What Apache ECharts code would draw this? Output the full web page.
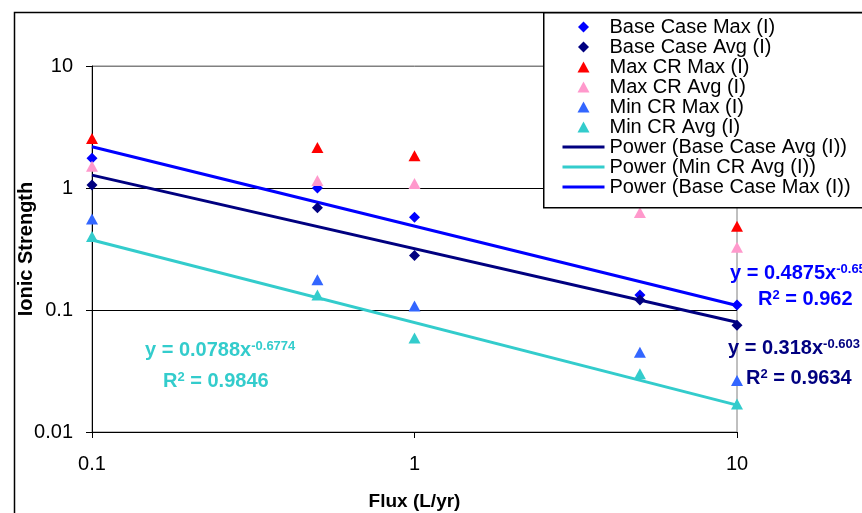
<!DOCTYPE html>
<html><head><meta charset="utf-8">
<script src="https://cdn.jsdelivr.net/npm/echarts@6/dist/echarts.min.js"></script>
<style>html,body{margin:0;padding:0;background:#fff}#c{width:862px;height:513px}</style>
</head><body><div id="c"></div>
<script>
// ---- data ----
const flux = [0.1, 0.5, 1, 5, 10];
const baseCaseMax = [1.75, 1.0, 0.575, 0.133, 0.11];
const baseCaseAvg = [1.06, 0.69, 0.28, 0.121, 0.075];
const maxCrMax = [2.55, 2.15, 1.84, 1.0, 0.485];
const maxCrAvg = [1.51, 1.15, 1.09, 0.63, 0.327];
const minCrMax = [0.557, 0.177, 0.108, 0.045, 0.0264];
const minCrAvg = [0.40, 0.133, 0.059, 0.030, 0.017];
const trendX = [0.1, 10];
const trendBaseAvg = [1.275, 0.0793];
const trendMinAvg = [0.375, 0.0166];
const trendBaseMax = [2.18, 0.109];
const xTickLabels = ['0.1', '1', '10'];
const yTickLabels = ['0.01', '0.1', '1', '10'];
const seriesNames = ['Base Case Max (I)', 'Base Case Avg (I)', 'Max CR Max (I)', 'Max CR Avg (I)',
  'Min CR Max (I)', 'Min CR Avg (I)', 'Power (Base Case Avg (I))', 'Power (Min CR Avg (I))', 'Power (Base Case Max (I))'];
const eqMinAvg = ['y = 0.0788x', '-0.6774', 'R', '2', ' = 0.9846'];
const eqBaseMax = ['y = 0.4875x', '-0.651', 'R', '2', ' = 0.962'];
const eqBaseAvg = ['y = 0.318x', '-0.603', 'R', '2', ' = 0.9634'];

const FONT = 'Liberation Sans, Arial, sans-serif';
const pairs = (xs, ys) => xs.map((x, i) => [x, ys[i]]);

const scatter = (name, ys, symbol, color, size) => ({
  name, type: 'scatter', data: pairs(flux, ys), symbol, symbolSize: size,
  itemStyle: { color, opacity: 1 }, z: 3
});
const trend = (name, ys, color) => ({
  name, type: 'line', data: pairs(trendX, ys), symbol: 'none', showSymbol: false,
  lineStyle: { color, width: 3 }, itemStyle: { color, opacity: 0 }, z: 2
});

// legend icons: marker centred in a 42x11 box (leading moves fix the box)
const ICON_DIAMOND = 'path://M0,0 M42,11 M15.5,5.5 L21,0 L26.5,5.5 L21,11 Z';
const ICON_TRIANGLE = 'path://M0,0 M42,11 M15,11 L21,0 L27,11 Z';

function eqText(x, y, eq, color, rx, ry) {
  const rich = {
    a: { fontSize: 20, fontWeight: 'bold', fontFamily: FONT, fill: color },
    s: { fontSize: 13, fontWeight: 'bold', fontFamily: FONT, fill: color, verticalAlign: 'top', padding: [0, 0, 8, 0] }
  };
  return [
    { type: 'text', left: x, top: y, z: 10, style: { text: '{a|' + eq[0] + '}{s|' + eq[1] + '}', rich, fill: color } },
    { type: 'text', left: rx, top: ry, z: 10, style: { text: '{a|' + eq[2] + '}{s|' + eq[3] + '}{a|' + eq[4] + '}', rich, fill: color } }
  ];
}

const chart = echarts.init(document.getElementById('c'), null, { renderer: 'canvas' });
chart.setOption({
  animation: false,
  backgroundColor: '#fff',
  grid: { left: 92, right: 125, top: 66, bottom: 81, show: true, borderColor: '#808080', borderWidth: 1,
    containLabel: false, outerBoundsMode: 'none' },
  xAxis: {
    type: 'log', logBase: 10, min: 0.1, max: 10,
    name: 'Flux (L/yr)', nameLocation: 'middle', nameGap: 60, nameMoveOverlap: false,
    nameTextStyle: { fontFamily: FONT, fontSize: 19, fontWeight: 'bold', color: '#000' },
    axisLine: { show: true, lineStyle: { color: '#000', width: 1 } },
    axisTick: { show: true, inside: false, length: 6, lineStyle: { color: '#000' } },
    minorTick: { show: false },
    splitLine: { show: false },
    axisLabel: { fontFamily: FONT, fontSize: 20, color: '#000', margin: 22,
      formatter: v => xTickLabels[Math.round(Math.log10(v)) + 1] }
  },
  yAxis: {
    type: 'log', logBase: 10, min: 0.01, max: 10,
    name: 'Ionic Strength', nameLocation: 'middle', nameGap: 56, nameRotate: 90, nameMoveOverlap: false,
    nameTextStyle: { fontFamily: FONT, fontSize: 20, fontWeight: 'bold', color: '#000' },
    axisLine: { show: true, lineStyle: { color: '#000', width: 1 } },
    axisTick: { show: true, inside: false, length: 6, lineStyle: { color: '#000' } },
    splitLine: { show: true, lineStyle: { color: ['#000', '#000', '#000', '#808080'], width: 1 } },
    axisLabel: { fontFamily: FONT, fontSize: 20, color: '#000', margin: 19,
      formatter: v => yTickLabels[Math.round(Math.log10(v)) + 2] }
  },
  legend: {
    orient: 'vertical', left: 561, top: 17, padding: 0, itemGap: 0,
    itemWidth: 42, itemHeight: 11, selectedMode: false, z: 20, symbolKeepAspect: true,
    textStyle: { fontFamily: FONT, fontSize: 20, color: '#000', lineHeight: 20 },
    data: seriesNames.map((n, i) => i < 2 ? { name: n, icon: ICON_DIAMOND }
      : i < 6 ? { name: n, icon: ICON_TRIANGLE }
      : { name: n, itemStyle: { opacity: 0 }, lineStyle: { width: 3 } })
  },
  series: [
    scatter(seriesNames[0], baseCaseMax, 'diamond', '#0000FF', 11),
    scatter(seriesNames[1], baseCaseAvg, 'diamond', '#000080', 11),
    scatter(seriesNames[2], maxCrMax, 'triangle', '#FF0000', [12, 11]),
    scatter(seriesNames[3], maxCrAvg, 'triangle', '#FF99CC', [12, 11]),
    scatter(seriesNames[4], minCrMax, 'triangle', '#3366FF', [12, 11]),
    scatter(seriesNames[5], minCrAvg, 'triangle', '#33CCCC', [12, 11]),
    trend(seriesNames[6], trendBaseAvg, '#000080'),
    trend(seriesNames[7], trendMinAvg, '#33CCCC'),
    trend(seriesNames[8], trendBaseMax, '#0000FF')
  ],
  graphic: [
    { type: 'rect', left: 12, top: 10, z: 1, silent: true,
      shape: { width: 900, height: 600 }, style: { fill: 'none', stroke: '#000', lineWidth: 1.5 } },
    { type: 'rect', left: 543, top: 12, z: 15, silent: true,
      shape: { width: 400, height: 195 }, style: { fill: '#fff', stroke: '#000', lineWidth: 1.5 } },
    ...eqText(145, 340, eqMinAvg, '#33CCCC', 163, 371),
    ...eqText(730, 263, eqBaseMax, '#0000FF', 758, 289),
    ...eqText(728, 338, eqBaseAvg, '#000080', 746, 368)
  ]
});
</script></body></html>
